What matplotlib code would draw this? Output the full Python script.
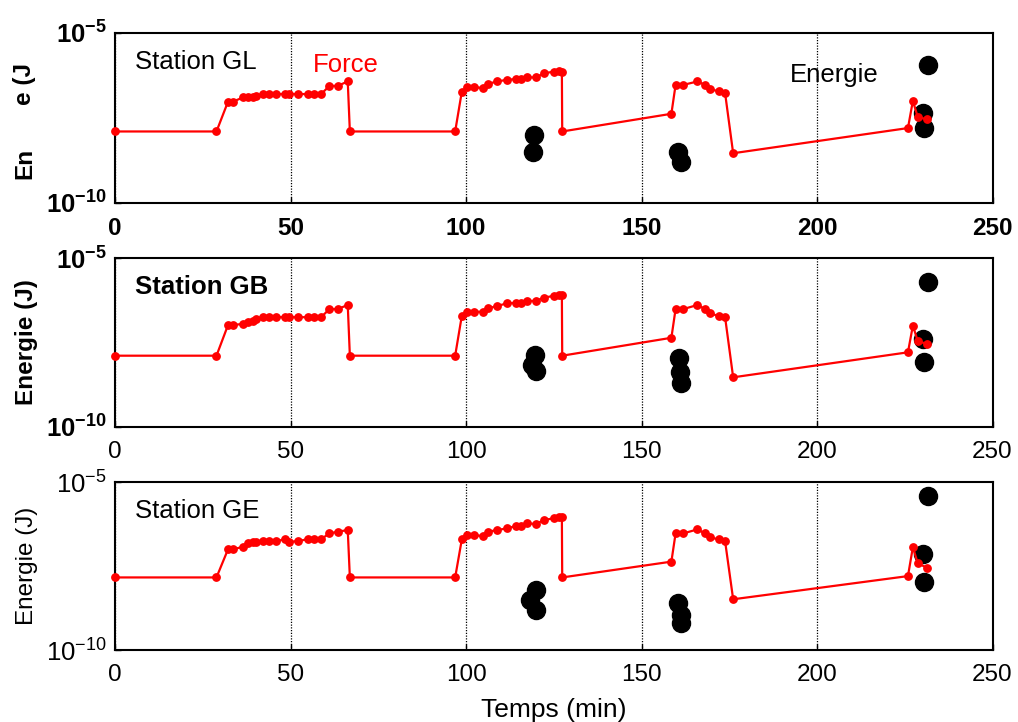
import numpy as np
import matplotlib
matplotlib.use("Agg")
import matplotlib.pyplot as plt

plt.rcParams["font.family"] = ["Liberation Sans", "DejaVu Sans"]
plt.rcParams["mathtext.fontset"] = "custom"
plt.rcParams["mathtext.rm"] = "Liberation Sans"
plt.rcParams["mathtext.bf"] = "Liberation Sans:bold"

# temps (min) des points "Force" (communs aux trois stations)
temps = [0, 28.9, 32.2, 33.6, 36.5, 37.9, 39.2, 40.3, 42.1, 44.0, 45.9, 48.3, 49.7,
         52.1, 55.0, 56.8, 58.7, 61.1, 63.4, 66.3, 66.9, 96.9, 98.8, 100.3, 102.3,
         104.8, 106.3, 108.8, 111.7, 114.2, 115.6, 117.4, 119.9, 122.2, 125.0, 126.5,
         127.3, 127.4, 158.5, 159.7, 161.9, 165.9, 168.1, 169.6, 172.1, 173.8, 176.1,
         225.9, 227.3, 228.7, 231.3]

# log10 de la courbe Force (échelle de l'énergie)
force_gl = [-7.90, -7.90, -7.02, -7.02, -6.90, -6.90, -6.88, -6.87, -6.80, -6.80,
            -6.80, -6.80, -6.80, -6.80, -6.80, -6.80, -6.80, -6.56, -6.56, -6.43,
            -7.90, -7.90, -6.73, -6.60, -6.60, -6.62, -6.50, -6.43, -6.38, -6.36,
            -6.36, -6.31, -6.31, -6.19, -6.14, -6.12, -6.14, -7.90, -7.38, -6.53,
            -6.53, -6.43, -6.53, -6.66, -6.72, -6.77, -8.54, -7.80, -7.00, -7.48, -7.54]
force_gb = [-7.89, -7.89, -6.98, -6.98, -6.95, -6.88, -6.85, -6.81, -6.75, -6.75,
            -6.75, -6.75, -6.75, -6.75, -6.75, -6.75, -6.75, -6.51, -6.51, -6.39,
            -7.89, -7.89, -6.71, -6.59, -6.59, -6.59, -6.49, -6.42, -6.34, -6.33,
            -6.33, -6.27, -6.27, -6.17, -6.12, -6.09, -6.09, -7.89, -7.36, -6.51,
            -6.51, -6.39, -6.51, -6.64, -6.72, -6.75, -8.53, -7.79, -7.00, -7.46, -7.54]
force_ge = [-7.84, -7.84, -7.00, -7.00, -6.93, -6.83, -6.80, -6.78, -6.77, -6.77,
            -6.77, -6.70, -6.78, -6.76, -6.70, -6.70, -6.70, -6.53, -6.48, -6.43,
            -7.84, -7.84, -6.71, -6.58, -6.58, -6.61, -6.48, -6.43, -6.38, -6.31,
            -6.30, -6.23, -6.25, -6.13, -6.08, -6.05, -6.05, -7.84, -7.37, -6.53,
            -6.53, -6.41, -6.53, -6.65, -6.71, -6.76, -8.49, -7.80, -6.94, -7.42, -7.55]

# points "Energie" (temps, log10 energie)
t_gl = [119.3, 119.0, 160.5, 161.1, 231.7, 230.3, 230.6]
e_gl = [-8.00, -8.49, -8.49, -8.79, -5.96, -7.36, -7.79]
t_gb = [119.6, 118.7, 119.8, 160.7, 160.9, 161.3, 231.7, 230.3, 230.6]
e_gb = [-7.87, -8.17, -8.33, -7.97, -8.36, -8.71, -5.70, -7.41, -8.07]
t_ge = [119.8, 118.2, 119.8, 160.5, 161.1, 161.3, 231.7, 230.3, 230.6]
e_ge = [-8.21, -8.51, -8.81, -8.61, -8.96, -9.20, -5.42, -7.14, -7.97]

stations = ["Station GL", "Station GB", "Station GE"]
forces = [force_gl, force_gb, force_ge]
energies = [(t_gl, e_gl), (t_gb, e_gb), (t_ge, e_ge)]

fig = plt.figure(figsize=(10.18, 7.22), dpi=100)
rects = [[0.113, 0.719, 0.862, 0.2355],
         [0.113, 0.4086, 0.862, 0.234],
         [0.113, 0.0997, 0.862, 0.2327]]
bold_x = ["bold", "normal", "normal"]
bold_y = ["bold", "bold", "normal"]

axes = []
for i, r in enumerate(rects):
    ax = fig.add_axes(r)
    axes.append(ax)
    ax.set_yscale("log")
    ax.set_xlim(0, 250)
    ax.set_ylim(1e-10, 1e-5)
    for xv in [0, 50, 100, 150, 200, 250]:
        ax.axvline(xv, color="black", linestyle=(0, (1, 1.2)), linewidth=0.9, zorder=1)
    ax.plot(temps, 10 ** np.array(forces[i]), color="red", linewidth=1.6,
            marker="o", markersize=5.3, zorder=3, clip_on=False)
    te, ee = energies[i]
    ax.plot(te, 10 ** np.array(ee), linestyle="none", marker="o", color="black",
            markersize=13, zorder=2)
    ax.minorticks_off()
    ax.set_yticks([1e-10, 1e-5])
    if bold_y[i] == "bold":
        ylabs = [r"$\mathbf{10^{-10}}$", r"$\mathbf{10^{-5}}$"]
    else:
        ylabs = [r"$\mathrm{10^{-10}}$", r"$\mathrm{10^{-5}}$"]
    ax.set_yticklabels(ylabs, fontsize=18.5)
    ax.set_xticks([0, 50, 100, 150, 200, 250])
    ax.set_xticklabels(["0", "50", "100", "150", "200", "250"], fontsize=17.5,
                       fontweight=bold_x[i])
    ax.tick_params(axis="x", direction="in", length=4, width=1.0, pad=10)
    ax.tick_params(axis="y", direction="in", length=4, width=1.0, pad=6)
    for s in ax.spines.values():
        s.set_linewidth(1.5)
    ax.text(0.023, 0.83, stations[i], transform=ax.transAxes, fontsize=18.5,
            va="center", ha="left", fontweight="bold" if i == 1 else "normal")

axes[0].text(0.2255, 0.81, "Force", transform=axes[0].transAxes, fontsize=18.5,
             color="red", va="center", ha="left")
axes[0].text(0.769, 0.753, "Energie", transform=axes[0].transAxes, fontsize=18.5,
             color="black", va="center", ha="left")

# étiquette de l'axe y du premier panneau (partiellement masquée dans l'original)
fig.text(0.0245, 1 - 163 / 722, "En", rotation=90, fontsize=17.5, fontweight="bold",
         ha="center", va="center")
fig.text(0.0245, 1 - 84 / 722, "e (J", rotation=90, fontsize=17.5, fontweight="bold",
         ha="center", va="center")
axes[1].set_ylabel("Energie (J)", fontsize=17.5, fontweight="bold", labelpad=6)
axes[2].set_ylabel("Energie (J)", fontsize=17.5, labelpad=6)
axes[2].set_xlabel("Temps (min)", fontsize=19, labelpad=9)

fig.savefig("out.png", dpi=100)
